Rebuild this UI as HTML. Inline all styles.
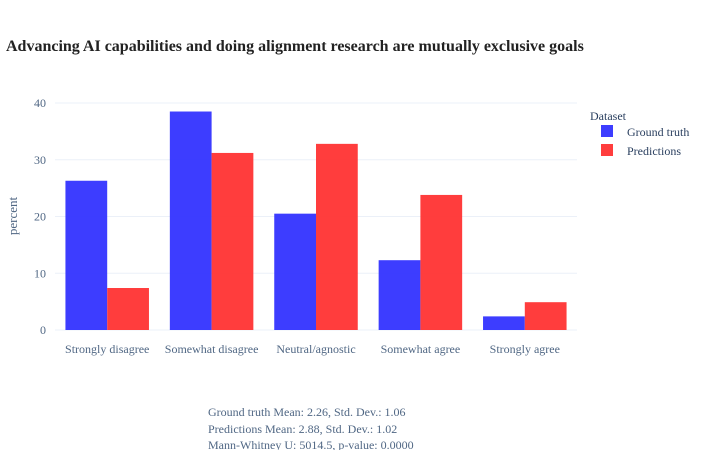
<!DOCTYPE html>
<html><head><meta charset="utf-8"><style>
body{margin:0;background:#fff;font-family:"Liberation Serif",serif;}
svg text{font-family:"Liberation Serif",serif;}
</style></head><body>
<svg id="chart" width="704" height="450" xmlns="http://www.w3.org/2000/svg">
<text x="6" y="51" font-size="16" font-weight="bold" fill="#222">Advancing AI capabilities and doing alignment research are mutually exclusive goals</text>
<g id="grid"></g><g id="bars"></g><g id="xt"></g>
<text transform="translate(17,216) rotate(-90)" text-anchor="middle" font-size="13" fill="#506784">percent</text>
<text x="590" y="120" font-size="12" fill="#2a3f5f">Dataset</text>
<g><rect x="601" y="125" width="12" height="12" fill="#3333ff" opacity="0.95"/><text x="627" y="136" font-size="12" fill="#2a3f5f">Ground truth</text></g>
<g><rect x="601" y="144" width="12" height="12" fill="#ff3333" opacity="0.95"/><text x="627" y="155" font-size="12" fill="#2a3f5f">Predictions</text></g>
<g font-size="12" fill="#506784">
<text x="208" y="416">Ground truth Mean: 2.26, Std. Dev.: 1.06</text>
<text x="208" y="433">Predictions Mean: 2.88, Std. Dev.: 1.02</text>
<text x="208" y="449">Mann-Whitney U: 5014.5, p-value: 0.0000</text>
</g>
</svg>
<script>
const categories=["Strongly disagree","Somewhat disagree","Neutral/agnostic","Somewhat agree","Strongly agree"];
const groundTruth=[26.3,38.5,20.5,12.3,2.4];
const predictions=[7.4,31.2,32.8,23.8,4.9];
const yTicks=[0,10,20,30,40];
const NS="http://www.w3.org/2000/svg";
const x0=55,x1=577,y0=330,y40=103;
const bw=(x1-x0)/categories.length;
const ys=v=>y0-(v/40)*(y0-y40);
function mk(t,a,p){const e=document.createElementNS(NS,t);for(const k in a)e.setAttribute(k,a[k]);document.getElementById(p).appendChild(e);return e;}
yTicks.forEach(v=>{
 const l=mk('line',{x1:x0,x2:x1,y1:ys(v),y2:ys(v),stroke:'#ebf0f8','stroke-width':1},'grid');
 
 
 const t=mk('text',{x:x0-9,y:ys(v)+4,'text-anchor':'end','font-size':12,fill:'#506784'},'grid');
 t.textContent=v;
 
 
});
categories.forEach((c,i)=>{
 const cx=x0+bw*(i+0.5), w=bw*0.4;
 const b1=mk('rect',{x:cx-w,y:ys(groundTruth[i]),width:w,height:y0-ys(groundTruth[i]),fill:'#3333ff',opacity:0.95},'bars');
 
 
 const b2=mk('rect',{x:cx,y:ys(predictions[i]),width:w,height:y0-ys(predictions[i]),fill:'#ff3333',opacity:0.95},'bars');
 
 
 const t=mk('text',{x:cx,y:353,'text-anchor':'middle','font-size':12,fill:'#506784'},'xt');
 t.textContent=c;
 
 
});
</script>
</body></html>
